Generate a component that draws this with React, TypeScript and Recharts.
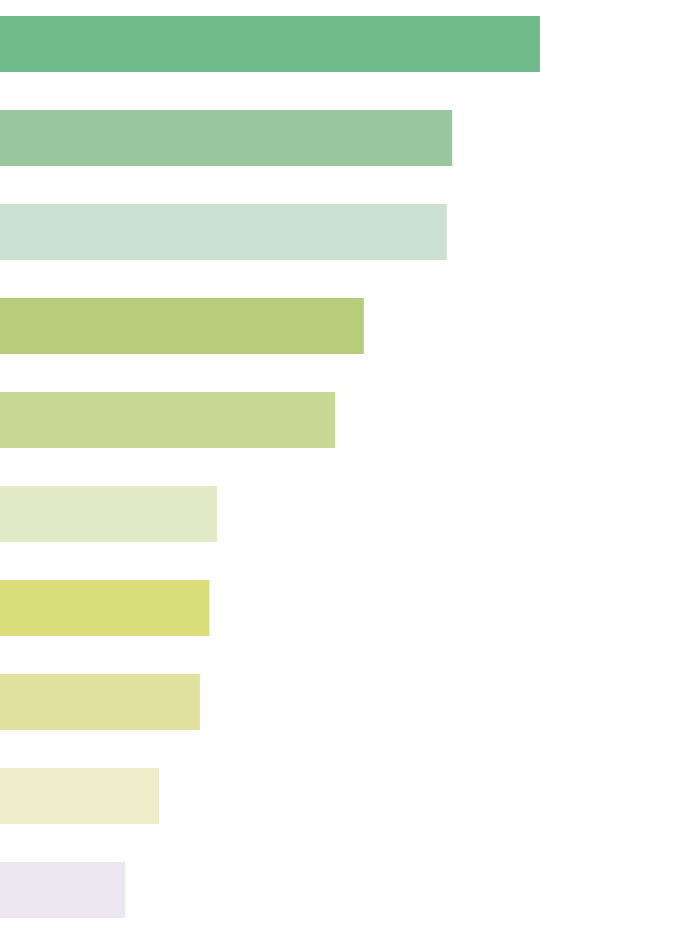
import { BarChart, Bar, XAxis, YAxis, Cell } from "recharts";

const categories = ["A", "B", "C", "D", "E", "F", "G", "H", "I", "J"];
const values = [79.4, 66.5, 65.7, 53.5, 49.3, 31.9, 30.8, 29.4, 23.4, 18.4];
const colors = [
  "#6fbc8a",
  "#98c79f",
  "#cbe1d3",
  "#b8cd7b",
  "#c8d894",
  "#e1e9c6",
  "#d9de7b",
  "#e0e29d",
  "#edeec9",
  "#ebe6f0",
];

const data = categories.map((name, i) => ({ name, value: values[i] }));

export default function App() {
  return (
    <div style={{ position: "absolute", left: 0, top: -3 }}>
      <BarChart
        width={680}
        height={940}
        data={data}
        layout="vertical"
        margin={{ top: 0, right: 0, bottom: 0, left: 0 }}
      >
        <XAxis type="number" domain={[0, 100]} hide />
        <YAxis type="category" dataKey="name" hide />
        <Bar dataKey="value" barSize={56} isAnimationActive={false}>
          {data.map((d, i) => (
            <Cell key={d.name} fill={colors[i]} />
          ))}
        </Bar>
      </BarChart>
    </div>
  );
}
